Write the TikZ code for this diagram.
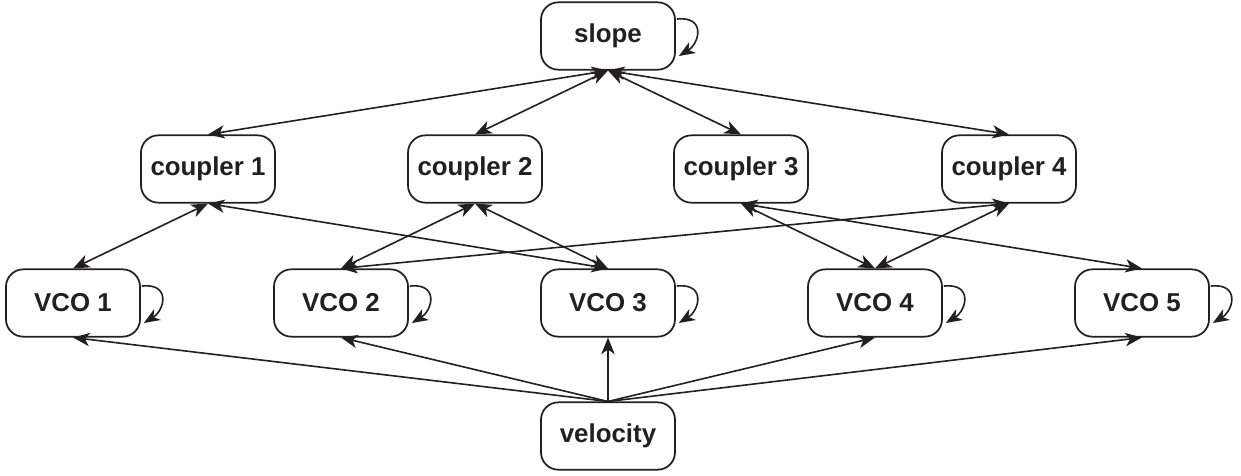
\documentclass[tikz,border=0pt]{standalone}
\usepackage{fontspec}
\setmainfont{Liberation Sans}
\usetikzlibrary{arrows.meta,calc}
\definecolor{ink}{HTML}{231F20}
\begin{document}
\begin{tikzpicture}[x=0.75pt,y=-0.75pt,
  box/.style={draw=ink,text=ink,line width=1.3pt,rounded corners=13pt,minimum width=100.5pt,minimum height=50.5pt,
    inner sep=0pt,font=\fontsize{19.4}{22}\selectfont\bfseries},
  tip/.style={draw=ink,line width=1.2pt,-{Stealth[length=12.5pt,width=10pt,inset=3.5pt]}},
  dtip/.style={draw=ink,line width=1.2pt,{Stealth[length=12.5pt,width=10pt,inset=3.5pt]}-{Stealth[length=12.5pt,width=10pt,inset=3.5pt]}},
  selfloop/.style={draw=ink,line width=1.2pt,-{Stealth[length=12pt,width=9.5pt,inset=3.5pt]}}]
\useasboundingbox (0,0) rectangle (1241,475);
\node[box] (slope) at (608,36) {slope};
\node[box] (c1) at (208,169) {coupler 1};
\node[box] (c2) at (475,169) {coupler 2};
\node[box] (c3) at (741,169) {coupler 3};
\node[box] (c4) at (1009,169) {coupler 4};
\node[box] (v1) at (73,303) {VCO 1};
\node[box] (v2) at (341,303) {VCO 2};
\node[box] (v3) at (608,303) {VCO 3};
\node[box] (v4) at (875,303) {VCO 4};
\node[box] (v5) at (1142,303) {VCO 5};
\node[box] (vel) at (608,436) {velocity};
% slope <-> couplers
\foreach \c in {c1,c2,c3,c4} \draw[dtip] (slope.south) -- (\c.north);
% couplers <-> VCOs
\draw[dtip] (c1.south) -- (v1.north);
\draw[dtip] (c1.south) -- (v3.north);
\draw[dtip] (c2.south) -- (v2.north);
\draw[dtip] (c2.south) -- (v3.north);
\draw[dtip] (c3.south) -- (v4.north);
\draw[dtip] (c3.south) -- (v5.north);
\draw[dtip] (c4.south) -- (v2.north);
\draw[dtip] (c4.south) -- (v4.north);
% velocity -> VCOs
\foreach \v in {v1,v2,v3,v4,v5} \draw[tip] (vel.north) -- (\v.south);
% self loops
\foreach \n in {slope,v1,v2,v3,v4,v5}
  \draw[selfloop] ($(\n.east)+(1,-17)$) .. controls +(29,-3) and +(21,-13) .. ($(\n.east)+(3,20)$);
\end{tikzpicture}
\end{document}
